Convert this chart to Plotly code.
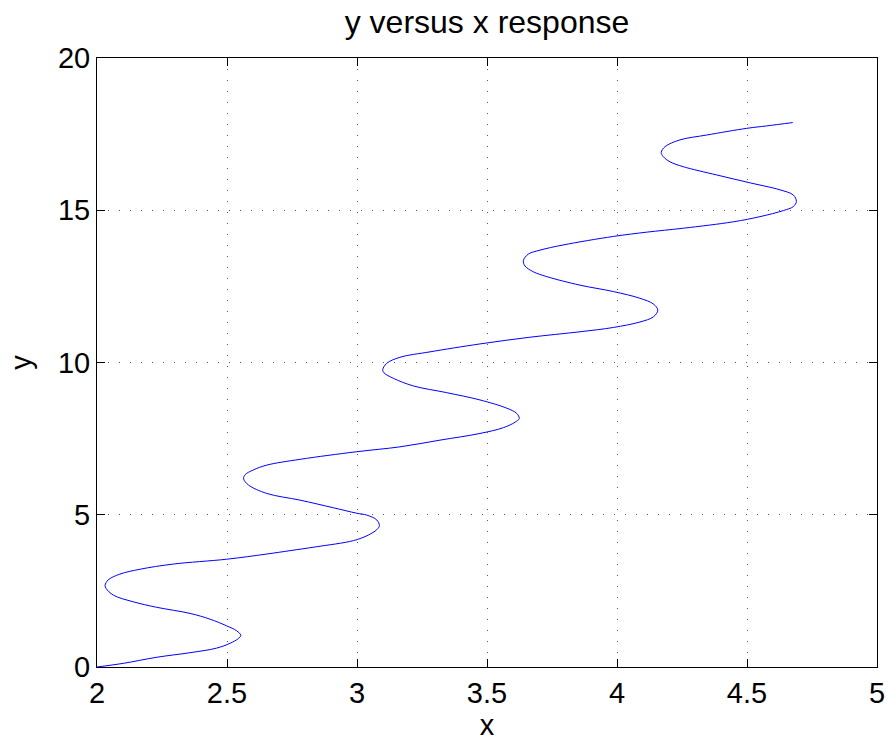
import plotly.graph_objects as go

x_vals = [2.000, 2.101, 2.230, 2.358, 2.460, 2.512, 2.543, 2.553, 2.537, 2.499,
          2.435, 2.358, 2.230, 2.140, 2.063, 2.035, 2.031, 2.043, 2.088, 2.165,
          2.293, 2.499, 2.653, 2.742, 2.845, 2.986, 3.043, 3.076, 3.086, 3.076,
          3.037, 2.999, 2.909, 2.781, 2.653, 2.582, 2.564, 2.569, 2.601, 2.653,
          2.781, 2.999, 3.165, 3.319, 3.473, 3.563, 3.608, 3.624, 3.614, 3.576,
          3.473, 3.345, 3.217, 3.140, 3.104, 3.099, 3.114, 3.165, 3.281, 3.473,
          3.665, 3.858, 3.986, 4.088, 4.140, 4.157, 4.140, 4.088, 3.986, 3.858,
          3.730, 3.678, 3.646, 3.640, 3.659, 3.704, 3.793, 3.986, 4.114, 4.255,
          4.447, 4.550, 4.640, 4.678, 4.690, 4.678, 4.627, 4.512, 4.383, 4.255,
          4.204, 4.178, 4.170, 4.185, 4.242, 4.345, 4.499, 4.576, 4.676]

y_vals = [0.00, 0.12, 0.32, 0.47, 0.62, 0.78, 0.93, 1.04, 1.19, 1.35,
          1.57, 1.76, 1.96, 2.14, 2.36, 2.58, 2.68, 2.86, 3.05, 3.21,
          3.38, 3.54, 3.71, 3.82, 3.95, 4.15, 4.33, 4.51, 4.64, 4.83,
          4.99, 5.05, 5.23, 5.48, 5.70, 5.98, 6.18, 6.31, 6.47, 6.63,
          6.82, 7.07, 7.23, 7.45, 7.67, 7.86, 8.04, 8.16, 8.33, 8.50,
          8.77, 9.01, 9.23, 9.48, 9.66, 9.76, 9.97, 10.17, 10.35, 10.61,
          10.83, 11.01, 11.15, 11.33, 11.50, 11.72, 11.92, 12.11, 12.33, 12.54,
          12.82, 12.98, 13.17, 13.35, 13.56, 13.69, 13.86, 14.14, 14.28, 14.41,
          14.62, 14.79, 14.99, 15.12, 15.29, 15.50, 15.67, 15.90, 16.16, 16.43,
          16.59, 16.76, 16.90, 17.09, 17.31, 17.47, 17.69, 17.77, 17.88]

x_ticks = [2, 2.5, 3, 3.5, 4, 4.5, 5]
x_tick_labels = ["2", "2.5", "3", "3.5", "4", "4.5", "5"]
y_ticks = [0, 5, 10, 15, 20]
y_tick_labels = ["0", "5", "10", "15", "20"]

font_family = "Liberation Sans, Arial, Helvetica, sans-serif"

fig = go.Figure()
fig.add_trace(go.Scatter(
    x=x_vals, y=y_vals, mode="lines",
    line=dict(color="#0000ff", width=1, shape="spline", smoothing=1.0),
    showlegend=False, hoverinfo="x+y",
))

axis_common = dict(
    showline=True, linecolor="black", linewidth=1, mirror="ticks",
    ticks="inside", ticklen=8, tickcolor="black", tickwidth=1,
    showgrid=True, gridcolor="#555555", griddash="1px,10px", gridwidth=1,
    zeroline=False,
    tickfont=dict(family=font_family, size=29, color="black"),
    title_font=dict(family=font_family, size=29, color="black"),
)

fig.update_layout(
    width=888, height=742,
    paper_bgcolor="white", plot_bgcolor="white",
    margin=dict(l=97, r=11, t=58, b=75),
    title=dict(text="y versus x response", x=0.5, xref="paper", xanchor="center",
               y=0.970, yref="container", yanchor="middle",
               font=dict(family=font_family, size=32, color="black")),
    font=dict(family=font_family, color="black"),
)
fig.update_xaxes(range=[2, 5], tickvals=x_ticks, ticktext=x_tick_labels,
                 automargin=False, title=dict(text="x", standoff=5), **axis_common)
fig.update_yaxes(range=[0, 20], tickvals=y_ticks, ticktext=y_tick_labels,
                 automargin=True, title=dict(text="y", standoff=17), **axis_common)

# Remove the default 8px body margin so the figure fills the window exactly.
fig.write_html("out.html",
               config={"displayModeBar": False},
               post_script="document.body.style.margin='0';document.body.style.overflow='hidden';")
